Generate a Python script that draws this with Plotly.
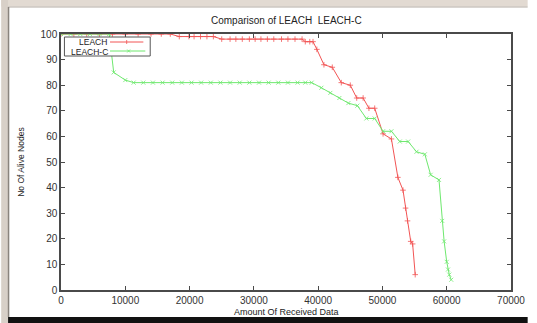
import plotly.graph_objects as go

# ---------------- data ----------------
leach_x = [0, 2000, 4000, 6000, 8000, 10000, 12000, 14000, 15600, 17000,
           18400, 19900, 20700, 21700, 22700, 23700,
           25000, 26300, 27200, 28200, 29300, 30200, 31100, 32100, 33100,
           34300, 35300, 36400, 37500,
           38000, 38700, 39200,
           39800, 40900, 42200, 43600, 45000, 46000, 47000, 47900, 48800,
           50100, 51400, 52400, 53200, 53600, 53900, 54400, 54700, 55100]
leach_y = [100, 100, 100, 100, 100, 100, 100, 100, 100, 100,
           99, 99, 99, 99, 99, 99,
           98, 98, 98, 98, 98, 98, 98, 98, 98,
           98, 98, 98, 98,
           97, 97, 97,
           94, 88, 87, 81, 80, 75, 75, 71, 71,
           61, 59, 44, 39, 32, 27, 19, 18, 6]

leachc_x = [0, 1500, 3000, 4500, 6000, 7500, 8200, 10000,
            11300, 12800, 14300, 15800, 17300, 18800, 20300, 21800, 23300,
            24800, 26300, 27800, 29300, 30800, 32300, 33800, 35300, 36800,
            38000, 39000,
            40500, 41900, 43300, 44700, 46100, 47500, 48800, 50100, 51400,
            52700, 54000, 55300, 56600, 57500, 58800, 59300, 59600, 60000,
            60200, 60400, 60700]
leachc_y = [100, 100, 100, 100, 100, 100, 85, 82,
            81, 81, 81, 81, 81, 81, 81, 81, 81,
            81, 81, 81, 81, 81, 81, 81, 81, 81,
            81, 81,
            79, 77, 75, 73, 72, 67, 67, 62, 62,
            58, 58, 54, 53, 45, 43, 27, 19, 11,
            8, 6, 4]

series_names = ["LEACH", "LEACH-C"]
x_ticks = [0, 10000, 20000, 30000, 40000, 50000, 60000, 70000]
y_ticks = [0, 10, 20, 30, 40, 50, 60, 70, 80, 90, 100]

RED = "rgb(242,85,85)"
GREEN = "rgb(110,232,110)"
AXC = "#4a4a4a"
FONT = "Liberation Sans, Arial, Helvetica, sans-serif"

fig = go.Figure()
fig.add_trace(go.Scatter(
    x=leach_x, y=leach_y, mode="lines+markers", name=series_names[0],
    line=dict(color=RED, width=1),
    marker=dict(symbol="cross-thin", size=4, line=dict(color=RED, width=0.8)),
    showlegend=False))
fig.add_trace(go.Scatter(
    x=leachc_x, y=leachc_y, mode="lines+markers", name=series_names[1],
    line=dict(color=GREEN, width=1),
    marker=dict(symbol="x-thin", size=4, line=dict(color=GREEN, width=0.8)),
    showlegend=False))

W, H = 537, 323
L, R, T, B = 61, 17, 34, 33
pw, ph = W - L - R, H - T - B


def px(x):
    return (x - L) / pw


def py(y):
    return (H - B - y) / ph


shapes = []
# window frame
shapes.append(dict(type="rect", xref="paper", yref="paper", layer="below",
                   x0=px(0), x1=px(W), y0=py(0), y1=py(6.5),
                   fillcolor="#e2dad2", line=dict(width=0)))
shapes.append(dict(type="rect", xref="paper", yref="paper", layer="below",
                   x0=px(0), x1=px(7), y0=py(0), y1=py(H),
                   fillcolor="#d8d0c8", line=dict(width=0)))
shapes.append(dict(type="line", xref="paper", yref="paper", layer="below",
                   x0=px(7), x1=px(W), y0=py(7), y1=py(7),
                   line=dict(color="#b4aca4", width=1)))
shapes.append(dict(type="line", xref="paper", yref="paper", layer="below",
                   x0=px(7.5), x1=px(7.5), y0=py(7), y1=py(317),
                   line=dict(color="#8a847e", width=1.5)))
shapes.append(dict(type="rect", xref="paper", yref="paper", layer="below",
                   x0=px(7), x1=px(W), y0=py(317), y1=py(H),
                   fillcolor="#111111", line=dict(width=0)))

# legend box
shapes.append(dict(type="rect", xref="paper", yref="paper",
                   x0=px(64.5), x1=px(152), y0=py(37), y1=py(56),
                   fillcolor="white", line=dict(color="#555555", width=1)))
# legend samples
shapes.append(dict(type="line", xref="paper", yref="paper",
                   x0=px(111), x1=px(145), y0=py(42), y1=py(42),
                   line=dict(color=RED, width=1)))
shapes.append(dict(type="line", xref="paper", yref="paper",
                   x0=px(111), x1=px(147), y0=py(51), y1=py(51),
                   line=dict(color=GREEN, width=1)))
# + marker
shapes.append(dict(type="line", xref="paper", yref="paper",
                   x0=px(128), x1=px(128), y0=py(40), y1=py(44),
                   line=dict(color=RED, width=0.8)))
# x marker
shapes.append(dict(type="line", xref="paper", yref="paper",
                   x0=px(128.5), x1=px(131.5), y0=py(49.5), y1=py(52.5),
                   line=dict(color=GREEN, width=0.8)))
shapes.append(dict(type="line", xref="paper", yref="paper",
                   x0=px(128.5), x1=px(131.5), y0=py(52.5), y1=py(49.5),
                   line=dict(color=GREEN, width=0.8)))

annotations = [
    dict(text=series_names[0], xref="paper", yref="paper", x=px(110), y=py(42),
         xanchor="right", yanchor="middle", showarrow=False,
         font=dict(family=FONT, size=8.5, color="#222")),
    dict(text=series_names[1], xref="paper", yref="paper", x=px(110.5), y=py(51.5),
         xanchor="right", yanchor="middle", showarrow=False,
         font=dict(family=FONT, size=8.5, color="#222")),
    dict(text="Amount Of Received Data", xref="paper", yref="paper",
         x=0.5, y=py(312), xanchor="center", yanchor="middle", showarrow=False,
         font=dict(family=FONT, size=9, color="#222")),
    dict(text="No Of Alive Nodes", xref="paper", yref="paper",
         x=px(20), y=py(162), xanchor="center", yanchor="middle", showarrow=False,
         textangle=-90, font=dict(family=FONT, size=8.5, color="#222")),
    dict(text="Comparison of LEACH\u00a0\u00a0LEACH-C", xref="paper", yref="paper",
         x=0.5, y=py(20), xanchor="center", yanchor="middle", showarrow=False,
         font=dict(family=FONT, size=10, color="#222")),
]

fig.update_layout(
    width=W, height=H,
    margin=dict(l=L, r=R, t=T, b=B, pad=0),
    paper_bgcolor="white", plot_bgcolor="white",
    shapes=shapes, annotations=annotations,
    font=dict(family=FONT, size=10, color="#333"),
)
fig.update_xaxes(range=[0, 70000], tickvals=x_ticks, ticktext=[str(v) for v in x_ticks],
                 showgrid=False, zeroline=False, showline=True, linecolor=AXC,
                 linewidth=1.5, mirror="ticks", ticks="inside", ticklen=4,
                 tickcolor=AXC, tickfont=dict(family=FONT, size=10, color="#333"))
fig.update_yaxes(range=[0, 100], tickvals=y_ticks, ticktext=[str(v) for v in y_ticks],
                 showgrid=False, zeroline=False, showline=True, linecolor=AXC,
                 linewidth=1.5, mirror="ticks", ticks="inside", ticklen=4,
                 tickcolor=AXC, tickfont=dict(family=FONT, size=10, color="#333"))

fig.write_html("out.html")
